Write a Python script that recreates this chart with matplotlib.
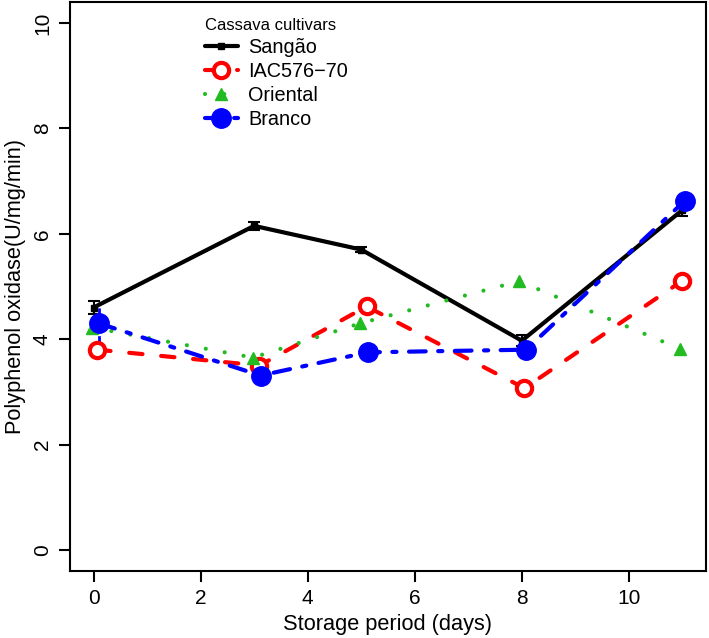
import numpy as np
import matplotlib
matplotlib.use("Agg")
import matplotlib.pyplot as plt

plt.rcParams['font.family'] = ['Liberation Sans', 'DejaVu Sans']

# dados
days_sangao = [0, 3, 5, 8, 11]
sangao = [4.6, 6.15, 5.7, 3.97, 6.45]
sangao_err = [0.13, 0.08, 0.05, 0.1, 0.12]

days_iac = [0.07, 3.1, 5.1, 8.05, 11.0]
iac = [3.8, 3.5, 4.62, 3.07, 5.11]

days_oriental = [-0.02, 2.98, 4.98, 7.95, 10.95]
oriental = [4.22, 3.65, 4.3, 5.1, 3.82]

days_branco = [0.1, 3.12, 5.12, 8.08, 11.05]
branco = [4.3, 3.31, 3.75, 3.8, 6.63]
branco_err = [0.4, 0, 0, 0, 0]

labels = ['Sangão', 'IAC576\u221270', 'Oriental', 'Branco']

fig = plt.figure(figsize=(7.09, 6.38), dpi=100)
ax = fig.add_axes([0.0987, 0.105, 0.897, 0.892])

# barras de erro
ax.errorbar(days_sangao, sangao, yerr=sangao_err, fmt='none', ecolor='black',
            elinewidth=1.5, capsize=4, capthick=1.5, zorder=2)
eb = ax.errorbar(days_branco, branco, yerr=branco_err, fmt='none', ecolor='blue',
                 elinewidth=2, capsize=0, zorder=2)
eb[2][0].set_linestyle((0, (3, 2)))

l1, = ax.plot(days_sangao, sangao, color='black', lw=3, marker='s', ms=5,
              solid_capstyle='round', zorder=3)
l2, = ax.plot(days_iac, iac, color='red', lw=3, ls=(0, (3.2, 4.5)),
              dash_capstyle='round', marker='o', ms=11, mfc='white', mec='red',
              mew=3, zorder=4)
l3, = ax.plot(days_oriental, oriental, color='#22bb22', lw=3, ls=(0, (0.01, 4.6)),
              dash_capstyle='round', marker='^', ms=9, zorder=4)
l4, = ax.plot(days_branco, branco, color='blue', lw=3, ls=(0, (4, 3, 1, 3)),
              dash_capstyle='round', marker='o', ms=14, zorder=5)

ax.set_xlim(-0.44, 11.44)
ax.set_ylim(-0.4, 10.4)
ax.set_xticks([0, 2, 4, 6, 8, 10])
ax.set_yticks([0, 2, 4, 6, 8, 10])
ax.tick_params(direction='out', length=8, width=1.5, labelsize=15, pad=5)
for lab in ax.get_yticklabels():
    lab.set_rotation(90)
    lab.set_va('center')
for sp in ax.spines.values():
    sp.set_linewidth(1.5)

ax.set_xlabel('Storage period (days)', fontsize=15.7, labelpad=4)
ax.set_ylabel('Polyphenol oxidase(U/mg/min)', fontsize=15.7, labelpad=5)

leg = ax.legend([l1, l2, l3, l4], labels, title='Cassava cultivars',
                loc='upper left', bbox_to_anchor=(0.187, 0.999), frameon=False,
                fontsize=14.3, title_fontsize=12, handlelength=1.65,
                labelspacing=0.25, handletextpad=0.55, borderpad=0.3)
leg._legend_box.align = 'left'

plt.savefig('out.png', dpi=100)
